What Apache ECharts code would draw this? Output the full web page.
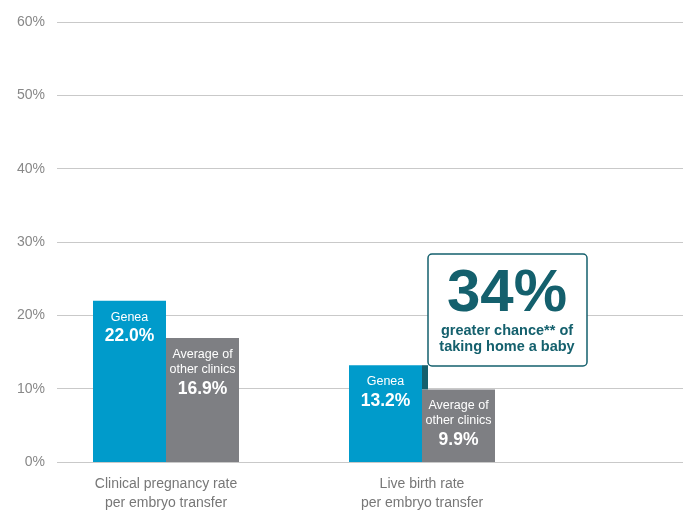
<!DOCTYPE html>
<html><head><meta charset="utf-8">
<script src="https://cdn.jsdelivr.net/npm/echarts@6/dist/echarts.min.js"></script>
<style>html,body{margin:0;padding:0;background:#fff}#c{width:695px;height:513px}</style>
</head><body><div id="c"></div>
<script>
const categories = ['Clinical pregnancy rate\nper embryo transfer', 'Live birth rate\nper embryo transfer'];
const geneaValues = [22.0, 13.2];
const otherValues = [16.9, 9.9];
const seriesNames = ['Genea', 'Average of\nother clinics'];
const yTicks = [0, 10, 20, 30, 40, 50, 60];
const calloutBig = '34%';
const calloutText = 'greater chance** of\ntaking home a baby';

const FONT = '"Liberation Sans", Arial, Helvetica, sans-serif';
const BLUE = '#009bcb', GRAY = '#7e7f83', TEAL = '#14606d';

const chart = echarts.init(document.getElementById('c'));
function lbl(name) {
  return {
    show: true, position: 'insideTop', distance: 9, fontFamily: FONT,
    formatter: p => name.split('\n').map(s => '{n|' + s + '}').join('\n') + '\n{v|' + p.value.toFixed(1) + '%}',
    rich: {
      n: { fontSize: 12.5, color: '#fff', lineHeight: 15, fontFamily: FONT },
      v: { fontSize: 17.5, fontWeight: 'bold', color: '#fff', lineHeight: 24, fontFamily: FONT }
    }
  };
}
chart.setOption({
  animation: false,
  grid: [
    { left: 57, right: 12, top: 22, bottom: 51 },
    { left: 38, right: 145, top: 22, bottom: 51 }
  ],
  xAxis: [
    { gridIndex: 0, type: 'category', data: categories, show: false },
    { gridIndex: 1, type: 'category', data: categories,
      axisLine: { show: false }, axisTick: { show: false },
      axisLabel: { color: '#777', fontSize: 14, lineHeight: 19, margin: 13, fontFamily: FONT } }
  ],
  yAxis: [
    { gridIndex: 0, type: 'value', min: yTicks[0], max: yTicks[yTicks.length - 1], interval: 10,
      axisLine: { show: false }, axisTick: { show: false },
      axisLabel: { color: '#888', fontSize: 14, margin: 12, formatter: '{value}%', fontFamily: FONT, padding: [0, 0, 9, 0] },
      splitLine: { lineStyle: { color: '#c9c9c9', width: 1 } } },
    { gridIndex: 1, type: 'value', min: yTicks[0], max: yTicks[yTicks.length - 1], show: false }
  ],
  series: [
    { type: 'bar', name: seriesNames[0], xAxisIndex: 1, yAxisIndex: 1, data: geneaValues,
      barWidth: 73, barGap: '0%', itemStyle: { color: BLUE }, label: lbl(seriesNames[0]) },
    { type: 'bar', name: seriesNames[1], xAxisIndex: 1, yAxisIndex: 1, data: otherValues,
      barWidth: 73, barGap: '0%', itemStyle: { color: GRAY }, label: lbl(seriesNames[1]) },
    { type: 'custom', xAxisIndex: 1, yAxisIndex: 1, z: 5,
      data: [[1, otherValues[1], geneaValues[1]]],
      renderItem: (params, api) => {
        const p0 = api.coord([api.value(0), api.value(1)]);
        const p1 = api.coord([api.value(0), api.value(2)]);
        return { type: 'rect', shape: { x: p0[0], y: p1[1], width: 6, height: p0[1] - p1[1] },
                 style: { fill: TEAL } };
      } }
  ],
  graphic: [
    { type: 'rect', shape: { x: 428, y: 254, width: 159, height: 112, r: 4 },
      style: { fill: '#fff', stroke: TEAL, lineWidth: 1.5 }, z: 10 },
    { type: 'text', x: 507, y: 294, z: 11,
      style: { text: calloutBig, fontFamily: FONT, fontSize: 60, fontWeight: 'bold', fill: TEAL,
               align: 'center', verticalAlign: 'middle' } },
    { type: 'text', x: 507, y: 338.5, z: 11,
      style: { text: calloutText, fontFamily: FONT, fontSize: 14.5, fontWeight: 'bold', fill: TEAL,
               align: 'center', verticalAlign: 'middle', lineHeight: 16 } }
  ]
});
</script></body></html>
